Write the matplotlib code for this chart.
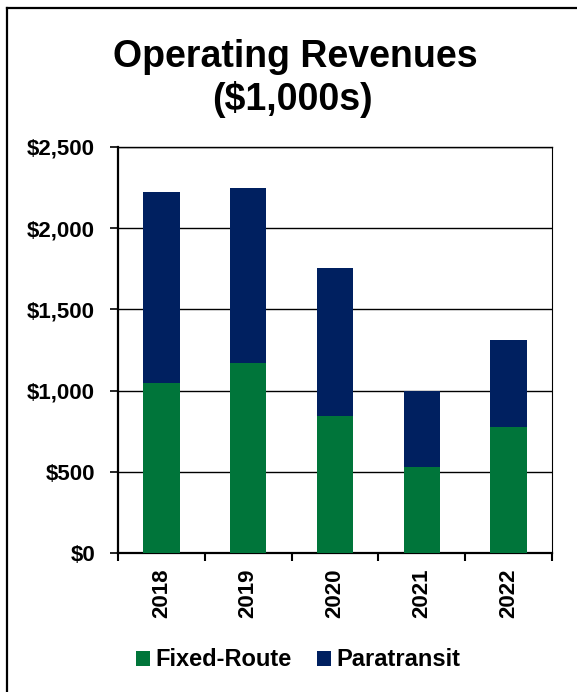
import matplotlib
matplotlib.use("Agg")
import matplotlib.pyplot as plt
from matplotlib.lines import Line2D
import numpy as np

plt.rcParams['font.family'] = ['Liberation Sans', 'DejaVu Sans']
plt.rcParams['font.weight'] = 'bold'

years = ["2018", "2019", "2020", "2021", "2022"]
fixed_route = [1045, 1168, 842, 530, 776]
paratransit = [1176, 1078, 911, 466, 538]
y_ticks = [0, 500, 1000, 1500, 2000, 2500]
y_tick_labels = ["$0", "$500", "$1,000", "$1,500", "$2,000", "$2,500"]

green = "#00753A"
navy = "#002060"

W, H = 577, 692
fig = plt.figure(figsize=(W / 100, H / 100), dpi=100)
fig.patch.set_facecolor("white")

ax = fig.add_axes([118 / W, 1 - 553 / H, (552 - 118) / W, (553 - 147) / H])

x = np.arange(len(years))
ax.bar(x, fixed_route, width=0.42, color=green, label="Fixed-Route", zorder=3)
ax.bar(x, paratransit, width=0.42, bottom=fixed_route, color=navy,
       label="Paratransit", zorder=3)

ax.set_xlim(-0.5, len(years) - 0.5)
ax.set_ylim(0, 2500)
ax.set_yticks(y_ticks)
ax.set_yticklabels(y_tick_labels, fontsize=16, fontweight="bold")
ax.yaxis.grid(True, color="black", linewidth=1.0)
ax.set_axisbelow(True)

# category labels centred, tick marks on the category boundaries
ax.set_xticks(x)
ax.set_xticklabels(years, rotation=90, fontsize=16, fontweight="bold")
ax.tick_params(axis="x", which="major", length=0, pad=11.5)
ax.set_xticks(np.arange(len(years) + 1) - 0.5, minor=True)
ax.tick_params(axis="x", which="minor", length=5.5, width=1.5, direction="out")
ax.tick_params(axis="y", length=6, width=1.2, direction="out", pad=10.5)

for side in ("left", "bottom"):
    ax.spines[side].set_linewidth(1.6)
ax.spines["right"].set_linewidth(0.8)
ax.spines["top"].set_linewidth(1.0)

fig.text(295 / W, 1 - 57 / H, "Operating Revenues", ha="center", va="center",
         fontsize=27, fontweight="bold")
fig.text(292 / W, 1 - 100 / H, "($1,000s)", ha="center", va="center",
         fontsize=27, fontweight="bold")

fig.legend(loc="center", bbox_to_anchor=(298 / W, 1 - 660 / H), ncol=2,
           frameon=False, handlelength=0.6, handleheight=0.6,
           handletextpad=0.22, columnspacing=1.1,
           prop={"weight": "bold", "size": 17})

# outer frame of the chart area
fig.add_artist(Line2D([7 / W, 7 / W], [0, 1 - 8 / H], transform=fig.transFigure,
                      color="black", linewidth=1.6))
fig.add_artist(Line2D([7 / W, 1], [1 - 8 / H, 1 - 8 / H], transform=fig.transFigure,
                      color="black", linewidth=1.6))

fig.savefig("out.png", dpi=100)
